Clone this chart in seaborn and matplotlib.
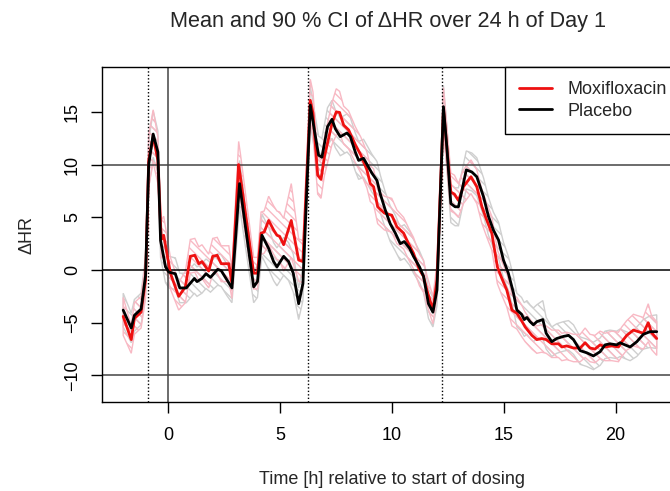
import numpy as np
import pandas as pd
import seaborn as sns
import matplotlib
matplotlib.use("Agg")
import matplotlib.pyplot as plt
from matplotlib.lines import Line2D
from matplotlib.patches import Polygon

# time after start of dosing [h], mean dHR and half width of the 90 % CI
moxi_time = [-2.0, -1.64, -1.5, -1.2, -1.0, -0.86, -0.66, -0.45, -0.3, -0.19,
             0.11, 0.48, 0.78, 1.0, 1.2, 1.38, 1.52, 1.82, 2.0, 2.2,
             2.38, 2.72, 2.86, 3.16, 3.24, 3.83, 4.0, 4.16, 4.3, 4.5,
             4.72, 4.87, 4.99, 5.17, 5.51, 5.84, 6.03, 6.36, 6.48, 6.69,
             6.84, 6.99, 7.33, 7.52, 7.67, 7.85, 8.07, 8.37, 8.62, 8.89,
             9.04, 9.19, 9.37, 9.67, 10.0, 10.23, 10.53, 10.75, 10.97, 11.24,
             11.42, 11.57, 11.84, 12.02, 12.31, 12.46, 12.64, 12.8, 12.98, 13.2,
             13.54, 13.8, 14.03, 14.25, 14.47, 14.72, 14.92, 15.14, 15.37, 15.59,
             15.8, 15.96, 16.26, 16.48, 16.7, 16.9, 17.15, 17.45, 17.6, 17.82,
             18.12, 18.42, 18.64, 18.86, 19.08, 19.31, 19.53, 19.83, 20.13, 20.28,
             20.5, 20.8, 21.02, 21.24, 21.46, 21.61, 21.84]
moxi_mean = [-4.4, -6.6, -4.6, -4.0, -0.9, 10.4, 12.7, 10.4, 2.9, 3.3,
             -0.3, -2.5, -1.6, 1.3, 1.4, 0.6, 0.8, -0.1, 1.3, 1.4,
             0.6, 0.6, -1.3, 10.0, 8.8, -0.3, -0.3, 3.5, 3.6, 4.7,
             3.8, 3.3, 3.2, 2.4, 4.7, 0.95, 0.8, 16.1, 14.9, 9.0,
             8.6, 10.75, 13.9, 15.0, 14.95, 13.75, 13.3, 11.9, 10.9, 9.5,
             8.2, 7.9, 6.0, 5.4, 5.2, 4.1, 3.5, 2.5, 1.6, 0.0,
             -0.6, -1.9, -3.8, -0.95, 15.3, 11.7, 7.4, 7.2, 6.6, 7.9,
             8.85, 7.9, 6.0, 4.7, 3.5, 0.3, -0.8, -1.9, -3.8, -4.1,
             -4.8, -5.4, -6.2, -6.6, -6.5, -6.6, -7.0, -7.0, -7.3, -7.2,
             -7.4, -7.4, -6.9, -7.4, -7.5, -7.1, -7.3, -7.2, -7.3, -6.8,
             -6.2, -5.7, -5.85, -6.0, -5.0, -5.95, -6.5]
moxi_hw = [1.8, 1.3, 1.5, 1.5, 1.8, 2.5, 2.5, 2.2, 1.8, 1.8,
           1.5, 1.3, 1.5, 1.6, 1.6, 1.6, 1.6, 1.6, 1.7, 1.7,
           1.7, 1.7, 1.4, 2.2, 2.2, 1.5, 1.5, 2.0, 2.0, 2.3,
           2.3, 2.3, 2.3, 2.5, 3.5, 2.0, 2.0, 2.0, 2.0, 1.8,
           1.8, 1.8, 2.0, 2.2, 2.0, 1.8, 1.8, 1.7, 1.7, 1.7,
           1.7, 1.7, 1.6, 1.6, 1.6, 1.6, 1.5, 1.5, 1.5, 1.5,
           1.5, 1.4, 1.3, 1.5, 2.0, 2.0, 1.8, 1.8, 1.6, 1.6,
           1.6, 1.6, 1.6, 1.6, 1.6, 1.6, 1.6, 1.6, 1.5, 1.5,
           1.5, 1.4, 1.3, 1.3, 1.3, 1.3, 1.3, 1.3, 1.3, 1.3,
           1.3, 1.3, 1.4, 1.3, 1.3, 1.3, 1.3, 1.4, 1.4, 1.4,
           1.4, 1.5, 1.5, 1.5, 1.8, 1.6, 1.6]

plac_time = [-2.0, -1.64, -1.5, -1.2, -1.0, -0.86, -0.66, -0.45, -0.33, -0.11,
             0.04, 0.33, 0.53, 0.82, 1.18, 1.3, 1.52, 1.7, 1.9, 2.22,
             2.38, 2.64, 2.86, 3.2, 3.38, 3.83, 4.0, 4.2, 4.5, 4.72,
             4.87, 5.17, 5.39, 5.6, 5.84, 6.03, 6.36, 6.54, 6.73, 6.88,
             7.13, 7.33, 7.48, 7.7, 8.0, 8.15, 8.37, 8.52, 8.74, 9.11,
             9.34, 9.49, 9.71, 9.93, 10.16, 10.38, 10.56, 10.8, 10.97, 11.24,
             11.42, 11.64, 11.84, 12.02, 12.31, 12.46, 12.64, 12.83, 12.98, 13.33,
             13.58, 13.8, 14.1, 14.32, 14.54, 14.77, 14.99, 15.21, 15.44, 15.59,
             15.8, 15.92, 16.04, 16.18, 16.33, 16.48, 16.75, 16.9, 17.15, 17.37,
             17.67, 17.9, 18.12, 18.42, 18.71, 19.01, 19.31, 19.53, 19.75, 20.05,
             20.2, 20.42, 20.65, 20.95, 21.24, 21.54, 21.84]
plac_mean = [-3.8, -5.5, -4.3, -3.7, -0.5, 10.0, 12.9, 11.2, 2.8, 0.3,
             -0.2, -0.35, -1.7, -1.7, -0.8, -1.1, -0.8, -0.35, -0.7, 0.06,
             -0.06, -0.95, -1.7, 8.2, 5.4, -1.6, -1.1, 3.3, 2.05, 0.8,
             0.3, 1.3, 0.8, -0.3, -3.2, -1.3, 15.65, 13.3, 10.9, 10.7,
             13.6, 14.3, 13.4, 12.65, 13.0, 12.65, 11.2, 10.4, 10.6, 9.2,
             8.5, 7.2, 5.7, 4.4, 3.5, 2.5, 2.7, 2.05, 1.3, 0.3,
             -0.6, -3.2, -4.0, -1.9, 15.5, 11.7, 6.3, 6.0, 6.0, 9.5,
             9.3, 8.85, 6.95, 5.1, 3.8, 2.85, 0.95, -0.3, -2.2, -3.8,
             -4.2, -4.7, -4.5, -4.9, -5.2, -4.9, -4.7, -6.0, -6.8, -6.5,
             -6.3, -6.2, -6.6, -7.65, -7.85, -8.15, -7.75, -7.1, -7.0, -7.1,
             -6.9, -7.1, -7.3, -6.8, -6.1, -5.85, -5.85]
plac_hw = [1.6, 1.4, 1.5, 1.5, 1.8, 2.2, 2.2, 2.0, 1.6, 1.5,
           1.5, 1.5, 1.4, 1.4, 1.4, 1.4, 1.4, 1.4, 1.4, 1.5,
           1.5, 1.5, 1.4, 2.2, 2.0, 1.5, 1.5, 2.0, 2.0, 1.8,
           1.8, 1.8, 1.8, 1.8, 1.5, 1.6, 1.8, 1.8, 1.8, 1.8,
           1.8, 1.8, 1.8, 1.8, 1.8, 1.8, 1.8, 1.8, 1.8, 1.8,
           1.8, 1.8, 1.7, 1.7, 1.7, 1.6, 1.6, 1.6, 1.6, 1.5,
           1.5, 1.4, 1.4, 1.5, 2.0, 2.0, 1.8, 1.8, 1.8, 1.8,
           1.8, 1.8, 1.8, 1.8, 1.7, 1.7, 1.7, 1.6, 1.6, 1.6,
           1.6, 1.6, 1.6, 1.6, 1.6, 1.6, 1.8, 1.5, 1.4, 1.4,
           1.4, 1.4, 1.4, 1.3, 1.3, 1.3, 1.3, 1.3, 1.3, 1.3,
           1.3, 1.3, 1.3, 1.4, 1.4, 1.5, 1.6]

treatments = ["Moxifloxacin", "Placebo"]
dosing_marks = [-0.9, 6.28, 12.25]
ref_lines = [-10, 0, 10]

moxi = pd.DataFrame({"time": moxi_time, "dhr": moxi_mean, "hw": moxi_hw, "trt": treatments[0]})
plac = pd.DataFrame({"time": plac_time, "dhr": plac_mean, "hw": plac_hw, "trt": treatments[1]})
df = pd.concat([moxi, plac], ignore_index=True)
df["lo"] = df["dhr"] - df["hw"]
df["hi"] = df["dhr"] + df["hw"]

sns.set_theme(style="white")
plt.rcParams["font.family"] = ["Liberation Sans", "DejaVu Sans"]
plt.rcParams["hatch.linewidth"] = 1.0

fig = plt.figure(figsize=(6.7, 4.91), dpi=100)
W, H = 670, 491
ax = fig.add_axes([101.7 / W, 1 - 402.3 / H, (681.8 - 101.7) / W, (402.3 - 66.7) / H])

band_col = {"Moxifloxacin": "#f8b9c4", "Placebo": "#cfcfcf"}
line_col = {"Moxifloxacin": "#ee1111", "Placebo": "black"}

# hatched CI polygons, placebo first
hatch = chr(92) * 4
for trt in ["Placebo", "Moxifloxacin"]:
    d = df[df.trt == trt]
    xs = d["time"].to_numpy()
    xy = np.column_stack([np.r_[xs, xs[::-1]],
                          np.r_[d["lo"].to_numpy(), d["hi"].to_numpy()[::-1]]])
    poly = Polygon(xy, closed=True, fill=False, edgecolor=band_col[trt],
                   hatch=hatch, linewidth=1.0, zorder=1)
    ax.add_patch(poly)

for y in ref_lines:
    ax.axhline(y, color="black" if y == 0 else "#444444", lw=1.1, zorder=2)
ax.axvline(0, color="#444444", lw=1.1, zorder=2)
for x in dosing_marks:
    ax.axvline(x, color="black", lw=1, ls=(0, (1, 1.5)), zorder=2)

sns.lineplot(data=df, x="time", y="dhr", hue="trt", palette=line_col,
             estimator=None, sort=False, lw=2, ax=ax, legend=False, zorder=3)

ax.set_xlim(-2.96, 22.96)
ax.set_ylim(-12.55, 19.29)
ax.set_xticks([0, 5, 10, 15, 20])
ax.set_yticks([-10, -5, 0, 5, 10, 15])
ax.tick_params(axis="both", direction="out", length=8, width=1, color="black",
               labelsize=13, labelcolor="black", bottom=True, left=True)
ax.tick_params(axis="x", pad=10)
ax.tick_params(axis="y", pad=7)
for lab in ax.get_yticklabels():
    lab.set_rotation(90)
    lab.set_va("center")
for sp in ax.spines.values():
    sp.set_color("black")
    sp.set_linewidth(1)

ax.set_xlabel("Time [h] relative to start of dosing", fontsize=13, va="center")
ax.xaxis.set_label_coords(0.5, (402.3 - 479) / (402.3 - 66.7))
ax.set_ylabel("ΔHR", fontsize=13, va="center")
ax.yaxis.set_label_coords((27 - 101.7) / (681.8 - 101.7), 0.5)

fig.text(388 / W, 1 - 22 / H, "Mean and 90 % CI of ΔHR over 24 h of Day 1",
         ha="center", va="center", fontsize=15.6)

handles = [Line2D([], [], color=line_col[t], lw=2) for t in treatments]
leg = ax.legend(handles, treatments, loc="upper right", bbox_to_anchor=(1.0, 1.0),
                fontsize=13, frameon=True, fancybox=False, framealpha=1,
                edgecolor="black", handlelength=1.8, handletextpad=0.9,
                labelspacing=0.25, borderpad=0.8, borderaxespad=0)
leg.get_frame().set_linewidth(1)

fig.savefig("out.png", dpi=100)
